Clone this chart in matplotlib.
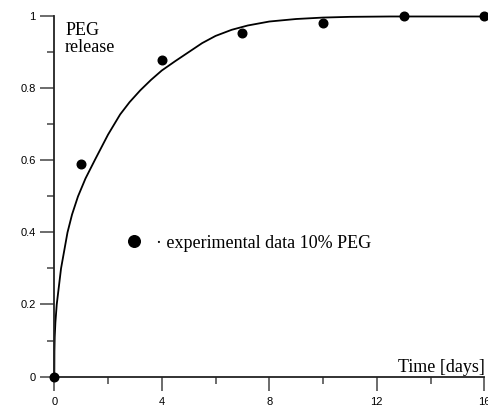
import matplotlib
matplotlib.use("Agg")
import matplotlib.pyplot as plt
from matplotlib.ticker import MultipleLocator

# measured PEG release (fraction) vs time
time_days = [0, 1, 4, 7, 10, 13, 16]
release = [0.0, 0.59, 0.88, 0.953, 0.983, 1.0, 1.0]

# fitted curve
curve_t = [0, 0.004, 0.015, 0.04, 0.09, 0.17, 0.25, 0.37, 0.49, 0.66, 0.88,
           1.16, 1.52, 2.0, 2.45, 2.8, 3.2, 3.6, 4.0, 4.5, 5.0, 5.5, 6.0,
           6.6, 7.2, 8.0, 9.0, 10.0, 11.0, 12.5, 14.0, 16.0]
curve_v = [0.0, 0.07, 0.11, 0.15, 0.2, 0.25, 0.3, 0.35, 0.4, 0.45, 0.5,
           0.55, 0.603, 0.672, 0.728, 0.762, 0.795, 0.824, 0.85, 0.876,
           0.901, 0.926, 0.946, 0.963, 0.975, 0.986, 0.993, 0.997, 0.999,
           1.0, 1.0, 1.0]

legend_label = "\u00b7 experimental data 10% PEG"

fig = plt.figure(figsize=(4.88, 4.08), dpi=100)
ax = fig.add_axes([0.1113, 0.0772, 0.8811, 0.8824])

ax.plot(curve_t, curve_v, color="black", lw=1.3, clip_on=False,
        solid_joinstyle="round")
ax.plot(time_days, release, "o", color="black", ms=6.2, clip_on=False,
        zorder=5, label=legend_label)

ax.set_xlim(0, 16)
ax.set_ylim(0, 1)
for side in ["top", "right"]:
    ax.spines[side].set_visible(False)
for side in ["left", "bottom"]:
    ax.spines[side].set_linewidth(1.3)
    ax.spines[side].set_color("#222222")

ax.xaxis.set_major_locator(MultipleLocator(4))
ax.xaxis.set_minor_locator(MultipleLocator(2))
ax.yaxis.set_minor_locator(MultipleLocator(0.1))
ax.set_yticks([0, 0.2, 0.4, 0.6, 0.8, 1.0])
ax.set_yticklabels(["0", "0.2", "0.4", "0.6", "0.8", "1"])
ax.tick_params(which="major", direction="out", length=10, width=1.1,
               color="#444444", labelsize=8, pad=3.5)
ax.tick_params(which="minor", direction="out", length=5, width=1.1,
               color="#444444")
ax.tick_params(axis="x", which="major", pad=5)
for lab in ax.get_xticklabels() + ax.get_yticklabels():
    lab.set_fontfamily("Liberation Sans")

ax.text(0.4, 0.902, "PEG\nrelease", family="Liberation Serif", fontsize=13,
        ha="left", va="baseline", linespacing=0.95)
ax.text(16.03, 0.0133, "Time [days]", family="Liberation Serif", fontsize=13,
        ha="right", va="baseline")

ax.legend(loc="center left", bbox_to_anchor=(0.164, 0.37), frameon=False,
          prop={"family": "Liberation Serif", "size": 13}, markerscale=1.35,
          handlelength=1.0, handletextpad=0.75, borderpad=0, borderaxespad=0)

fig.savefig("out.png", dpi=100)
